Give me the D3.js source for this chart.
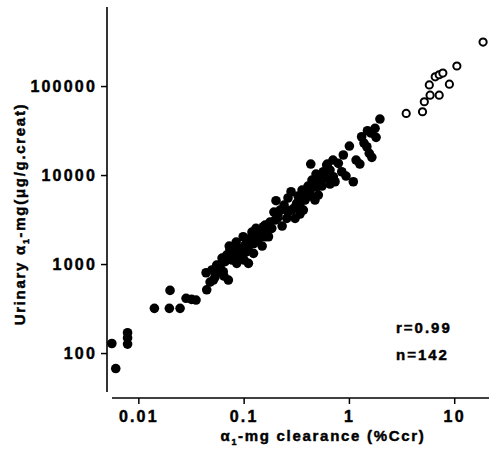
<!DOCTYPE html>
<html>
<head>
<meta charset="utf-8">
<script src="https://cdn.jsdelivr.net/npm/d3@7"></script>
<style>
  html, body { margin: 0; padding: 0; background: #fff; }
  svg { display: block; }
  text { font-family: "Liberation Sans", Arial, Helvetica, sans-serif; font-weight: bold; fill: #000; stroke: #000; stroke-width: 0.45px; }
</style>
</head>
<body>
<svg id="chart" width="489" height="459"></svg>
<script>
// α1-microglobulin clearance (%Ccr) vs urinary α1-mg (μg/g creatinine)
const clearanceFilled = [
  0.0056, 0.0061, 0.0079, 0.0079, 0.0079, 0.0142, 0.0197, 0.020, 0.0249, 0.0284,
  0.032, 0.0353, 0.0446, 0.044, 0.050, 0.0516, 0.0555, 0.0535, 0.064, 0.0666,
  0.0716, 0.073, 0.069, 0.080, 0.086, 0.096, 0.111, 0.099, 0.111, 0.131,
  0.124, 0.160, 0.160, 0.060, 0.0885, 0.103, 0.115, 0.154, 0.185, 0.172,
  0.199, 0.203, 0.222, 0.257, 0.308, 0.286, 0.282, 0.319, 0.369, 0.383,
  0.397, 0.434, 0.459, 0.532, 0.476, 0.512, 0.564, 0.615, 0.427, 0.494,
  0.571, 0.711, 0.855, 0.738, 1.10, 0.624, 0.793, 0.885, 1.01, 1.27,
  1.48, 1.56, 1.65, 1.32, 1.50, 1.77, 1.81, 1.97, 1.62, 0.137,
  0.143, 0.120, 0.0885, 0.0776, 0.0624, 0.057, 0.074, 0.085, 0.105, 0.178,
  0.212, 0.242, 0.264, 0.329, 0.343, 0.427, 0.446, 0.606, 0.661, 0.343,
  0.232, 0.150, 0.065, 0.048, 0.706, 0.509, 0.938, 1.17, 1.39, 0.0524,
  0.0624, 0.0924, 0.115, 0.131, 0.194, 0.264, 0.301, 0.359, 0.409, 0.555,
  0.487, 0.661, 0.163, 0.101, 0.070, 0.094, 0.125, 0.145, 0.210, 0.250,
  0.370, 0.540
];
const urinaryFilled = [
  128, 67, 169, 126, 148, 318, 318, 506, 318, 412,
  401, 394, 514, 798, 857, 661, 975, 714, 819, 1062,
  661, 1593, 1262, 1319, 1018, 1208, 1018, 2027, 1565, 2518,
  1319, 2742, 2027, 902, 1514, 1634, 1944, 2626, 2518, 2027,
  3122, 5146, 4043, 3262, 3262, 4043, 6490, 4808, 4043, 5237,
  6490, 13300, 7720, 8070, 5237, 5960, 10450, 12950, 6490, 7390,
  10890, 9570, 10890, 8410, 8410, 13300, 13540, 16790, 21180, 13300,
  20800, 17530, 15810, 26940, 31470, 33480, 26520, 42600, 29640, 1860,
  2290, 2290, 1168, 1109, 1053, 813, 1437, 1768, 1365, 2963,
  3555, 4600, 3840, 5810, 4484, 5810, 8790, 9250, 11380, 3645,
  2673, 1593, 733, 628, 14740, 9250, 9740, 14740, 22900, 857,
  1168, 1437, 1768, 2064, 3840, 5520, 4260, 6780, 7520, 7520,
  10260, 7920, 2410, 1109, 1180, 1300, 1700, 2150, 3300, 4100,
  5500, 8600
];
const clearanceOpen = [3.5, 5.0, 5.2, 5.9, 7.2, 5.8, 6.6, 7.2, 7.8, 9.0, 10.6, 18.8];
const urinaryOpen   = [49300, 51400, 66600, 79000, 79000, 103000, 127000, 134000, 140000, 105000, 168000, 312000];

const xTicks = [0.01, 0.1, 1, 10];
const xTickLabels = ["0.01", "0.1", "1", "10"];
const yTicks = [100, 1000, 10000, 100000];
const yTickLabels = ["100", "1000", "10000", "100000"];
const statLines = ["r=0.99", "n=142"];

const svg = d3.select("#chart");

const x = d3.scaleLog().domain([0.00562, 21.4]).range([112, 489]);
const y = d3.scaleLog().domain([36.5, 773000]).range([392, 7]);

const yAxisX = 107;
const xAxisY = 398;

// y axis
const gy = svg.append("g")
  .attr("transform", `translate(${yAxisX},0)`)
  .call(d3.axisLeft(y).tickValues(yTicks)
    .tickFormat((d, i) => yTickLabels[i])
    .tickSize(6).tickPadding(4).tickSizeOuter(0));
gy.select(".domain").remove();
gy.append("line")
  .attr("x1", 0).attr("x2", 0)
  .attr("y1", y.range()[1]).attr("y2", y.range()[0])
  .attr("stroke", "#000").attr("stroke-width", 1.6);
gy.selectAll(".tick line").attr("stroke", "#000").attr("stroke-width", 1.5);
gy.selectAll(".tick text")
  .attr("font-size", 16).attr("letter-spacing", 2.2)
  .attr("font-family", "Liberation Sans, Arial, sans-serif").attr("font-weight", "bold");

// x axis
const gx = svg.append("g")
  .attr("transform", `translate(0,${xAxisY})`)
  .call(d3.axisBottom(x).tickValues(xTicks)
    .tickFormat((d, i) => xTickLabels[i])
    .tickSize(6).tickPadding(7).tickSizeOuter(0));
gx.select(".domain").remove();
gx.append("line")
  .attr("x1", x.range()[0]).attr("x2", x.range()[1])
  .attr("y1", 0).attr("y2", 0)
  .attr("stroke", "#000").attr("stroke-width", 1.6);
gx.selectAll(".tick line").attr("stroke", "#000").attr("stroke-width", 1.5);
gx.selectAll(".tick text")
  .attr("font-size", 16).attr("letter-spacing", 2.2)
  .attr("font-family", "Liberation Sans, Arial, sans-serif").attr("font-weight", "bold");

// filled points
const filled = clearanceFilled.map((c, i) => ({ c, u: urinaryFilled[i] }));
svg.append("g").selectAll("circle")
  .data(filled).join("circle")
  .attr("cx", d => x(d.c)).attr("cy", d => y(d.u))
  .attr("r", 4.8).attr("fill", "#000");

// open points
const open = clearanceOpen.map((c, i) => ({ c, u: urinaryOpen[i] }));
svg.append("g").selectAll("circle")
  .data(open).join("circle")
  .attr("cx", d => x(d.c)).attr("cy", d => y(d.u))
  .attr("r", 3.6).attr("fill", "#fff").attr("stroke", "#000").attr("stroke-width", 2);

// axis titles
const xt = svg.append("text")
  .attr("x", 323).attr("y", 441)
  .attr("text-anchor", "middle").attr("font-size", 15).attr("letter-spacing", 1.7);
xt.append("tspan").text("α");
xt.append("tspan").attr("font-size", 9).attr("dy", 4).text("1");
xt.append("tspan").attr("dy", -4).text("-mg clearance (%Ccr)");

const yt = svg.append("text")
  .attr("transform", "translate(25,214) rotate(-90)")
  .attr("text-anchor", "middle").attr("font-size", 15).attr("letter-spacing", 1.7);
yt.append("tspan").text("Urinary α");
yt.append("tspan").attr("font-size", 9).attr("dy", 4).text("1");
yt.append("tspan").attr("dy", -4).text("-mg(μg/g.creat)");

// statistics
svg.append("g").selectAll("text")
  .data(statLines).join("text")
  .attr("x", 396).attr("y", (d, i) => 333 + i * 27)
  .attr("font-size", 15).attr("letter-spacing", 2)
  .text(d => d);
</script>
</body>
</html>
